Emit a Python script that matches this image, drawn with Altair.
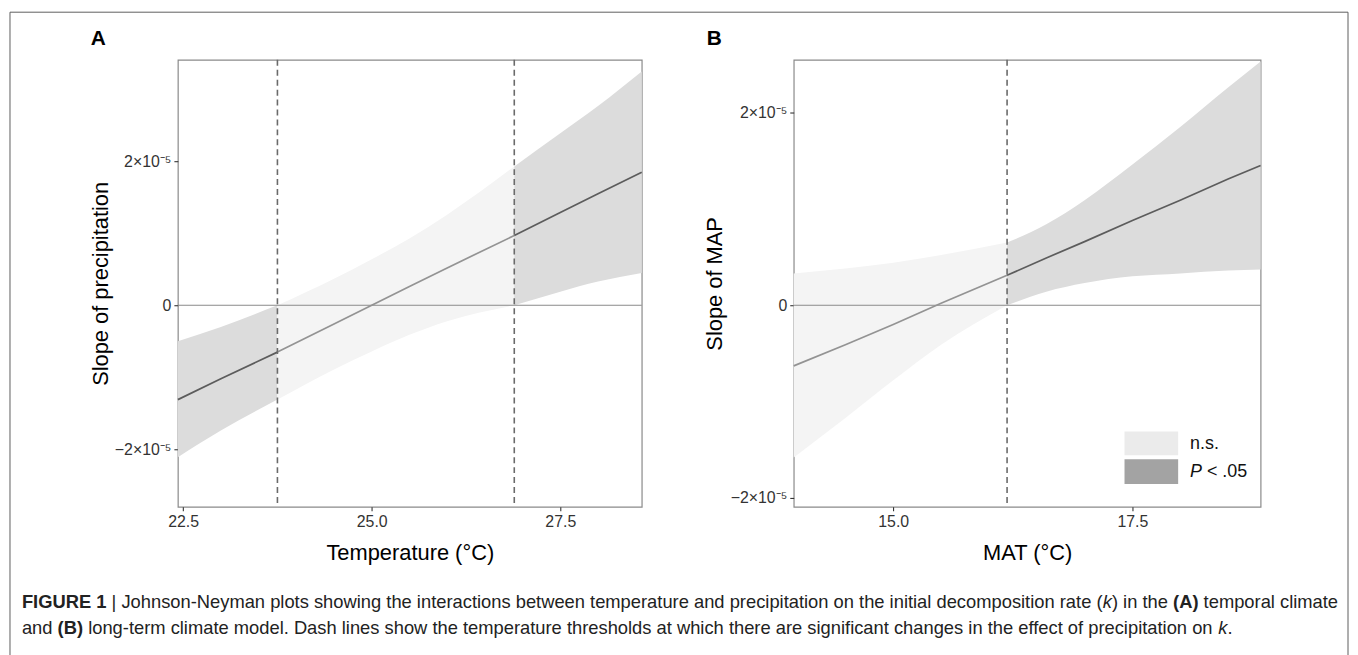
import altair as alt
import pandas as pd

FONT = "Liberation Sans"

# ---------------- data (slopes in units of 1e-5) ----------------
# Panel A: temporal climate model
a_x = [22.43, 23.0, 23.75, 24.5, 25.0, 25.5, 26.0, 26.89, 27.5, 28.0, 28.58]
a_line = [-1.31, -1.02, -0.65, -0.26, 0.0, 0.26, 0.52, 0.97, 1.29, 1.55, 1.85]
a_upper = [-0.50, -0.30, 0.0, 0.37, 0.64, 0.93, 1.26, 1.93, 2.39, 2.77, 3.25]
a_lower = [-2.11, -1.74, -1.31, -0.89, -0.64, -0.41, -0.22, 0.0, 0.19, 0.33, 0.45]
a_thresholds = [23.75, 26.89]
a_kinds = ["sig", "ns", "sig"]

# Panel B: long-term climate model
b_x = [13.96, 14.5, 15.0, 15.5, 16.19, 16.6, 17.0, 17.5, 18.0, 18.5, 18.84]
b_line = [-0.63, -0.41, -0.20, 0.02, 0.31, 0.49, 0.66, 0.88, 1.09, 1.31, 1.45]
b_upper = [0.33, 0.38, 0.44, 0.52, 0.65, 0.84, 1.09, 1.46, 1.85, 2.26, 2.53]
b_lower = [-1.58, -1.17, -0.78, -0.41, 0.0, 0.14, 0.23, 0.30, 0.33, 0.36, 0.37]
b_thresholds = [16.19]
b_kinds = ["ns", "sig"]

y_ticks = [-2, 0, 2]
a_xticks = [22.5, 25.0, 27.5]
b_xticks = [15.0, 17.5]
legend_labels = ["n.s.", "P", "< .05"]

caption_line1 = [("FIGURE 1", "bold"), (" | Johnson-Neyman plots showing the interactions between temperature and precipitation on the initial decomposition rate (", "normal"),
                 ("k", "italic"), (") in the ", "normal"), ("(A)", "bold"), (" temporal climate", "normal")]
caption_line2 = [("and ", "normal"), ("(B)", "bold"),
                 (" long-term climate model. Dash lines show the temperature thresholds at which there are significant changes in the effect of precipitation on ", "normal"),
                 ("k", "italic"), (".", "normal")]

# ---------------- helpers ----------------
def build(xs, mid, lo, hi, thr, kinds):
    bounds = [float("-inf")] + thr + [float("inf")]
    rows = []
    for s in range(len(bounds) - 1):
        for xv, m, l, h in zip(xs, mid, lo, hi):
            if bounds[s] <= xv <= bounds[s + 1]:
                rows.append(dict(x=xv, mid=m, lo=l, hi=h, seg=s, kind=kinds[s]))
    return pd.DataFrame(rows)


FILL = alt.Scale(domain=["ns", "sig"], range=["#f4f4f4", "#dcdcdc"])
STROKE = alt.Scale(domain=["ns", "sig"], range=["#939393", "#5c5c5c"])
ONE = pd.DataFrame({"a": [0]})

# Helvetica / Arial metrics (per 1000 em) for caption layout
REG = {" ": 278, "(": 333, ")": 333, "-": 333, ".": 278, "|": 260, ",": 278}
for c in "0123456789":
    REG[c] = 556
REG.update(dict(A=667, B=667, C=722, D=722, E=667, F=611, G=778, H=722, I=278, J=500, K=667, L=556, M=833,
                N=722, O=778, P=667, Q=778, R=722, S=667, T=611, U=722, V=667, W=944, X=667, Y=667, Z=611))
REG.update(dict(a=556, b=556, c=500, d=556, e=556, f=278, g=556, h=556, i=222, j=222, k=500, l=222, m=833,
                n=556, o=556, p=556, q=556, r=333, s=500, t=278, u=556, v=500, w=722, x=500, y=500, z=500))
BOLD = dict(REG)
BOLD.update({"(": 333, ")": 333, "|": 280, "A": 722, "B": 722, "E": 667, "F": 611, "G": 778, "I": 278, "R": 722, "U": 722})


def width(text, style):
    tab = BOLD if style == "bold" else REG
    return sum(tab.get(ch, 556) for ch in text) / 1000.0


CAP_SIZE = 1325.0 / sum(width(t, s) for t, s in caption_line1)


def caption_layers(segments, x0, y0):
    layers = []
    cur = x0
    for text, style in segments:
        lead = len(text) - len(text.lstrip(" "))
        shown = text.strip(" ")
        px = cur + width(" " * lead, style) * CAP_SIZE
        layers.append(
            alt.Chart(ONE).mark_text(
                text=shown, align="left", baseline="middle", font=FONT, fontSize=CAP_SIZE,
                fontWeight="bold" if style == "bold" else "normal",
                fontStyle="italic" if style == "italic" else "normal", color="#222222",
            ).encode(x=alt.value(px), y=alt.value(y0))
        )
        cur += width(text, style) * CAP_SIZE
    return layers


def panel(df, thr, xdom, ydom, xticks, xtitle, ytitle, ytpad, letter, w, h, extra):
    def X(f):
        return alt.X(f, type="quantitative", scale=alt.Scale(domain=xdom, nice=False, zero=False),
                     axis=alt.Axis(values=xticks, format=".1f", title=xtitle, titlePadding=13))

    def Y(f):
        return alt.Y(f, type="quantitative", scale=alt.Scale(domain=ydom, nice=False, zero=False),
                     axis=alt.Axis(values=y_ticks, title=ytitle, titlePadding=ytpad,
                                   labelExpr="datum.value == 0 ? '0' : format(datum.value, 'd') + '×10⁻⁵'"))

    base = alt.Chart(df)
    band = base.mark_area(interpolate="monotone").encode(
        x=X("x"), y=Y("lo"), y2="hi:Q",
        fill=alt.Fill("kind:N", scale=FILL, legend=None), detail="seg:N")
    zero = alt.Chart(pd.DataFrame({"lo": [0]})).mark_rule(color="#8a8a8a", strokeWidth=1.1).encode(y=Y("lo"))
    line = base.mark_line(strokeWidth=1.7).encode(
        x=X("x"), y=Y("mid"), stroke=alt.Stroke("kind:N", scale=STROKE, legend=None), detail="seg:N")
    dash = alt.Chart(pd.DataFrame({"x": thr})).mark_rule(
        color="#6a6a6a", strokeDash=[6, 4], strokeWidth=1.6).encode(x=X("x"))
    lab = alt.Chart(ONE).mark_text(text=letter, font=FONT, fontSize=21, fontWeight="bold",
                                   align="center", baseline="middle", color="#000000").encode(
        x=alt.value(-80), y=alt.value(-21))
    return alt.layer(band, zero, line, dash, lab, *extra).properties(width=w, height=h)


dfA = build(a_x, a_line, a_lower, a_upper, a_thresholds, a_kinds)
dfB = build(b_x, b_line, b_lower, b_upper, b_thresholds, b_kinds)

# frame around the figure and caption (drawn in panel A's coordinates)
frame = alt.Chart(ONE).mark_rect(fillOpacity=0, stroke="#5e5e5e", strokeWidth=1).encode(
    x=alt.value(-169), x2=alt.value(1178), y=alt.value(-48), y2=alt.value(610))
capA = caption_layers(caption_line1, -157, 546) + caption_layers(caption_line2, -157, 572)

# manual legend inside panel B
leg = [
    alt.Chart(ONE).mark_rect(fill="#ebebeb").encode(x=alt.value(333), x2=alt.value(387), y=alt.value(374), y2=alt.value(398)),
    alt.Chart(ONE).mark_rect(fill="#a3a3a3").encode(x=alt.value(333), x2=alt.value(387), y=alt.value(402), y2=alt.value(427)),
    alt.Chart(ONE).mark_text(text=legend_labels[0], font=FONT, fontSize=18, align="left", baseline="middle", color="#111111").encode(x=alt.value(399), y=alt.value(387)),
    alt.Chart(ONE).mark_text(text=legend_labels[1], font=FONT, fontSize=18, fontStyle="italic", align="left", baseline="middle", color="#111111").encode(x=alt.value(399), y=alt.value(415)),
    alt.Chart(ONE).mark_text(text=legend_labels[2], font=FONT, fontSize=18, align="left", baseline="middle", color="#111111").encode(x=alt.value(416), y=alt.value(415)),
]

A = panel(dfA, a_thresholds, [22.43, 28.58], [-2.80, 3.41], a_xticks, "Temperature (°C)",
          "Slope of precipitation", 2, "A", 467, 450, [frame] + capA)
B = panel(dfB, b_thresholds, [13.96, 18.84], [-2.093, 2.546], b_xticks, "MAT (°C)",
          "Slope of MAP", 4, "B", 470, 450, leg)

chart = alt.hconcat(A, B, spacing=153, bounds="flush").properties(
    padding={"left": 0, "top": 0, "right": 0, "bottom": 0}
).configure(
    font=FONT, background="white"
).configure_view(stroke="#8a8a8a", strokeWidth=1.2).configure_axis(
    grid=False, domain=False, tickColor="#333333", tickSize=4, tickWidth=1.1,
    labelColor="#333333", labelFontSize=16, labelFont=FONT, labelPadding=3,
    titleFontSize=22, titleFontWeight="normal", titleColor="#000000", titleFont=FONT,
)

chart.save("out.html", embed_options={"renderer": "svg", "actions": False})
